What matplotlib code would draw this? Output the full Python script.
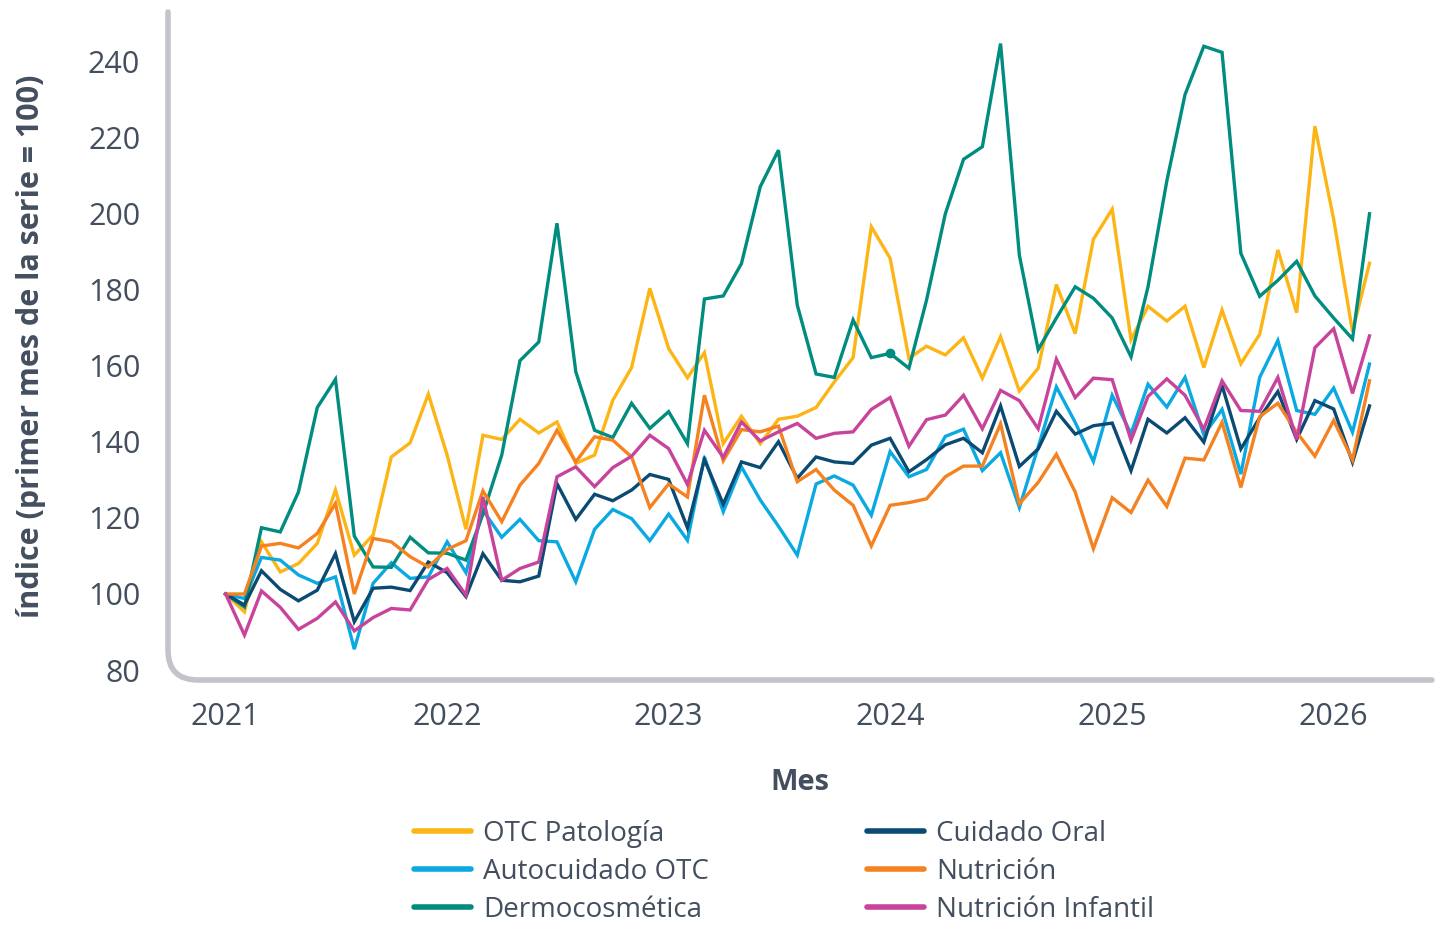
import matplotlib
matplotlib.use("Agg")
import matplotlib.pyplot as plt
import matplotlib.dates as mdates
from matplotlib.path import Path
from matplotlib.patches import PathPatch
import numpy as np
import pandas as pd

plt.rcParams["font.family"] = ["Open Sans", "DejaVu Sans"]

meses = pd.date_range("2021-01-01", periods=63, freq="MS")

otc_patologia = [
    100, 95.3, 113.7, 105.8, 108, 113.3, 127.3, 110.2, 115.5, 136, 139.7, 152.5,
    136.5, 117, 141.7, 140.6, 145.9, 142.3, 145.2, 134.3, 136.5, 150.9, 159.5, 180.3,
    164.5, 156.8, 163.4, 139.5, 146.7, 139.5, 145.9, 146.7, 149, 155.7, 162.1, 196.5,
    188.2, 161.9, 165.1, 162.8, 167.3, 156.7, 167.6, 153.3, 159.3, 181.3, 168.4, 193.2,
    201.1, 166.8, 175.6, 171.7, 175.6, 159.5, 174.6, 160.5, 168.2, 190.4, 173.9, 222.9,
    198.4, 168.9, 186.9,
]
autocuidado_otc = [
    100, 98.8, 109.6, 108.9, 105, 102.8, 104.5, 85.5, 102.8, 108.2, 104.1, 104.5,
    113.7, 105.6, 122, 114.9, 119.6, 114, 113.7, 103.2, 117, 122.2, 119.8, 114,
    121, 114.1, 136, 121.6, 133.4, 124.7, 117.8, 110.2, 128.9, 131, 128.6, 120.7,
    137.4, 130.8, 132.7, 141.4, 143.3, 132.4, 137.1, 122.7, 138.6, 154.4, 145.1, 134.8,
    152.2, 142.1, 155.1, 149.1, 156.9, 141.8, 148.5, 131.5, 156.9, 166.6, 148.2, 147.2,
    154.1, 142.5, 160.4,
]
dermocosmetica = [
    100, 96.6, 117.4, 116.3, 126.8, 149, 156.4, 115.2, 107.1, 107, 114.9, 110.8,
    110.7, 108.9, 121, 136.5, 161.3, 166.2, 197.4, 158.4, 143, 141.1, 150.1, 143.5,
    147.9, 139.5, 177.5, 178.3, 186.8, 207, 216.6, 175.9, 157.8, 156.9, 172, 162.1,
    163.2, 159.3, 177.2, 199.9, 214.2, 217.5, 244.6, 189, 164.2, 172.5, 180.7, 177.7,
    172.5, 162.3, 180.7, 208.5, 231.2, 243.9, 242.3, 189.5, 178.2, 182.4, 187.4, 178.3,
    172.5, 167, 199.9,
]
cuidado_oral = [
    100, 97.1, 106.1, 101.2, 98.2, 101, 110.6, 92.7, 101.5, 101.8, 100.9, 108.4,
    105.6, 99.3, 110.6, 103.6, 103.2, 104.7, 129, 119.6, 126.2, 124.5, 127.3, 131.4,
    130.1, 117.4, 135.3, 123.6, 134.7, 133.2, 140, 130.4, 136, 134.7, 134.3, 139.1,
    140.9, 132.1, 135.3, 139.2, 140.9, 137.1, 149.4, 133.5, 138.1, 148, 142, 144.2,
    144.9, 132.4, 145.9, 142.3, 146.3, 139.9, 154.8, 138.1, 146.3, 153.2, 140.6, 150.8,
    148.6, 134.6, 149.4,
]
nutricion = [
    100, 100, 112.6, 113.3, 112.1, 115.9, 123.8, 100, 114.6, 113.7, 109.8, 107.1,
    111.7, 114, 127.1, 119, 128.6, 134.3, 143, 134.7, 141.3, 140.4, 136, 122.7,
    128.9, 125.5, 152.2, 135, 143.2, 142.6, 144.1, 129.5, 132.7, 127.3, 123.3, 112.6,
    123.3, 124, 125, 130.8, 133.6, 133.6, 144.7, 123.7, 129.3, 136.7, 126.8, 111.9,
    125.3, 121.4, 129.9, 123, 135.7, 135.2, 145.1, 128, 146.6, 150.1, 142.5, 136.2,
    145.6, 135.2, 156,
]
nutricion_infantil = [
    100, 89.2, 100.8, 96.5, 90.7, 93.6, 97.9, 90.3, 93.8, 96.2, 95.8, 103.8,
    106.7, 99.7, 125.5, 103.6, 106.7, 108.4, 130.8, 133.4, 128.2, 133.2, 136.2, 141.7,
    138.2, 128.8, 143, 135.9, 145.2, 140.2, 142.6, 144.8, 140.9, 142.2, 142.6, 148.5,
    151.6, 138.8, 145.8, 147, 152.2, 143.4, 153.5, 150.8, 143.4, 161.7, 151.6, 156.7,
    156.3, 140.4, 151.9, 156.5, 152.2, 143.3, 156, 148.2, 148, 156.9, 140.6, 164.7,
    169.7, 152.7, 167.8,
]

series = [
    ("OTC Patología", otc_patologia, "#fdb515"),
    ("Autocuidado OTC", autocuidado_otc, "#0aa9e2"),
    ("Dermocosmética", dermocosmetica, "#008c7f"),
    ("Cuidado Oral", cuidado_oral, "#0a4a73"),
    ("Nutrición", nutricion, "#f58220"),
    ("Nutrición Infantil", nutricion_infantil, "#c8439b"),
]

txt = "#434f5e"
spine_col = "#c3c4c9"

fig = plt.figure(figsize=(14.38, 9.26), dpi=100)
ax = fig.add_axes([168 / 1438, 1 - 680 / 926, 1264 / 1438, 668 / 926])

for name, vals, col in series:
    ax.plot(meses, vals, color=col, lw=2.4, label=name, solid_joinstyle="miter")

# punto resaltado en Dermocosmética (ene 2024)
ax.plot(meses, dermocosmetica, color="none", marker="o", markersize=6,
        mfc="#008c7f", mec="#008c7f", markevery=[36])

ax.set_xlim(pd.Timestamp("2020-09-28"), pd.Timestamp("2026-06-12"))
ax.set_ylim(77.4, 252.9)
ax.set_yticks(np.arange(80, 241, 20))
ax.xaxis.set_major_locator(mdates.YearLocator())
ax.xaxis.set_major_formatter(mdates.DateFormatter("%Y"))

for s in ax.spines.values():
    s.set_visible(False)
ax.tick_params(axis="both", length=0, labelsize=22, labelcolor=txt)
ax.tick_params(axis="y", pad=20)
ax.tick_params(axis="x", pad=16)

# eje en L con esquina redondeada
rx, ry = 30 / 1264, 30 / 668
verts = [(0, 1), (0, ry), (0, 0), (rx, 0), (1, 0)]
codes = [Path.MOVETO, Path.LINETO, Path.CURVE3, Path.CURVE3, Path.LINETO]
ax.add_patch(PathPatch(Path(verts, codes), transform=ax.transAxes, fill=False,
                       ec=spine_col, lw=4, clip_on=False, capstyle="round"))

ax.set_ylabel("índice (primer mes de la serie = 100)", fontsize=22,
              fontweight="bold", color=txt, labelpad=30)
ax.set_xlabel("Mes", fontsize=21, fontweight="bold", color=txt, labelpad=26)

leg = fig.legend(loc="center", bbox_to_anchor=(784 / 1438, 1 - 872 / 926), ncol=2,
                 frameon=False, fontsize=20, handlelength=2.05, handletextpad=0.43,
                 columnspacing=5.7, labelspacing=0.36, borderaxespad=0, borderpad=0)
for t in leg.get_texts():
    t.set_color(txt)
for h in leg.get_lines():
    h.set_linewidth(4)
    h.set_solid_capstyle("round")

fig.savefig("out.png", dpi=100)
